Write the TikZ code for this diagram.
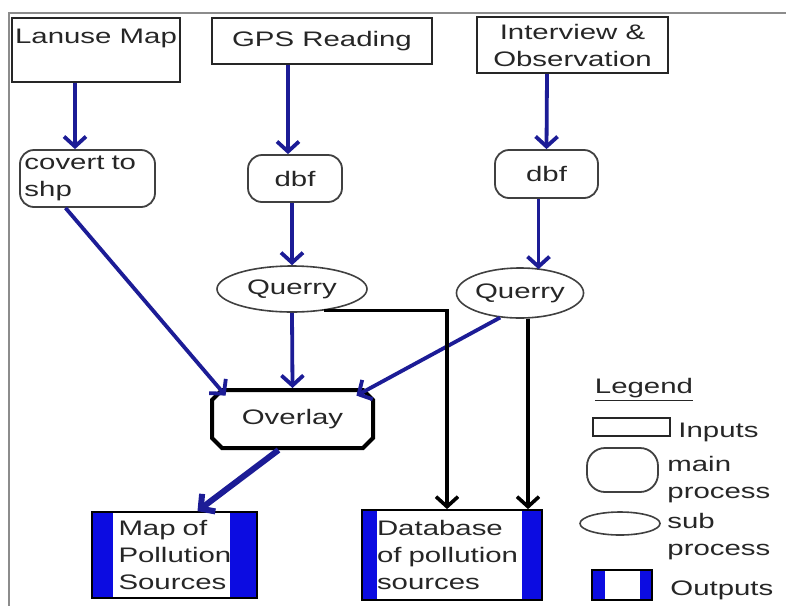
\documentclass[tikz,border=0pt]{standalone}
\usepackage{fontspec}
\setmainfont{Liberation Sans}[FakeStretch=1.4]
\usetikzlibrary{shapes.geometric,shapes.misc,arrows.meta}
\definecolor{flowblue}{RGB}{28,28,150}
\definecolor{barblue}{RGB}{12,12,225}
\begin{document}
\begin{tikzpicture}[x=0.5pt, y=-0.5pt,
  font=\fontsize{10.5}{13.5}\selectfont, text=black!85,
  >={Straight Barb[length=5pt,width=11pt]},
  input/.style={draw=black!85, line width=1pt, inner sep=0pt, align=center},
  mainproc/.style={draw=black!75, line width=0.9pt, rounded corners=7pt, inner sep=0pt},
  subproc/.style={ellipse, draw=black!75, line width=0.8pt, inner sep=0pt},
  overlaybox/.style={chamfered rectangle, chamfered rectangle xsep=2.5pt, chamfered rectangle ysep=2.5pt, draw=black, line width=2pt, inner sep=0pt},
  output/.style 2 args={draw=black, line width=0.9pt, inner sep=0pt, align=left,
    path picture={
      \fill[barblue] (path picture bounding box.north west) rectangle ([xshift=#1]path picture bounding box.south west);
      \fill[barblue] (path picture bounding box.north east) rectangle ([xshift=-#2]path picture bounding box.south east);}},
  flow/.style={->, draw=flowblue, line width=1.9pt},
  dbflow/.style={->, draw=black, line width=1.8pt},
  keytext/.style={anchor=west, align=left, inner sep=0pt}]
\useasboundingbox (0,0) rectangle (786,606);
\draw[black!45, line width=1pt] (786,13) -- (9,13) -- (9,606);
% inputs
\node[input, minimum width=84pt, minimum height=32pt] (lanuse) at (96,50) {Lanuse Map\\\mbox{}};
\node[input, minimum width=110pt, minimum height=23pt] (gps) at (322,41) {GPS Reading};
\node[input, minimum width=95.5pt, minimum height=28pt] (interview) at (572.5,45) {Interview \&\\Observation};
% processes
\node[mainproc, minimum width=67.5pt, minimum height=28.5pt, text width=63pt, align=left] (covert) at (87.5,178.5) {covert to\\shp};
\node[mainproc, minimum width=47pt, minimum height=23.5pt] (dbf1) at (295,178.5) {dbf};
\node[mainproc, minimum width=51.5pt, minimum height=24pt] (dbf2) at (546.5,174) {dbf};
\node[subproc, minimum width=75pt, minimum height=23pt] (q1) at (292,289) {Querry};
\node[subproc, minimum width=58pt, minimum height=25pt] (q2) at (520,293) {Querry};
\node[overlaybox, minimum width=80.5pt, minimum height=29pt] (overlay) at (292.5,419) {Overlay};
% outputs
\node[output={10.5pt}{13.5pt}, minimum width=82.5pt, minimum height=43pt, text width=56pt] (mapout) at (174.5,555) {Map of\\Pollution\\Sources};
\node[output={7.5pt}{10pt}, minimum width=90pt, minimum height=45pt, text width=75pt] (dbout) at (452,555) {Database\\of pollution\\sources};
% connectors
\draw[flow] ([xshift=-10.5pt]lanuse.south) -- ([xshift=-6.25pt]covert.north);
\draw[flow] ([xshift=-17pt]gps.south) -- ([xshift=-3.5pt]dbf1.north);
\draw[flow] ([xshift=-12.75pt]interview.south) -- (dbf2.north);
\draw[flow] (dbf1.south -| q1.north) -- (q1.north);
\draw[flow] ([xshift=-4pt]dbf2.south) -- ([xshift=9.25pt,yshift=-1pt]q2.north);
\draw[flow] ([xshift=-11pt]covert.south) -- ([xshift=5pt,yshift=-1pt]overlay.north west);
\draw[flow] (q1.south) -- (overlay.north);
\draw[flow] (q2.231) -- ([xshift=-6.5pt,yshift=-1pt]overlay.north east);
\draw[dbflow] (q1.-34) -| ([xshift=-2.5pt]dbout.north);
\draw[dbflow] ([xshift=4pt]q2.south) -- ([xshift=4pt]q2.south |- dbout.north);
\draw[flow, line width=3pt] ([xshift=-7pt]overlay.south) -- ([xshift=11.5pt]mapout.north);
% legend
\node (legend) at (644,390) {\underline{Legend}};
\node[input, line width=0.9pt, minimum width=38.5pt, minimum height=9pt] (keyin) at (631.5,427) {};
\node[keytext] (keyintext) at (678,432) {Inputs};
\node[mainproc, rounded corners=9pt, minimum width=35.5pt, minimum height=22pt] (keymain) at (622.5,470) {};
\node[keytext] (keymaintext) at (667,480) {main\\process};
\node[subproc, minimum width=40pt, minimum height=11.5pt] (keysub) at (620,523.5) {};
\node[keytext] (keysubtext) at (667,537) {sub\\process};
\node[output={6.5pt}{6pt}, minimum width=30pt, minimum height=15pt] (keyout) at (622,585) {};
\node[keytext] (keyouttext) at (670,590) {Outputs};
\end{tikzpicture}
\end{document}
